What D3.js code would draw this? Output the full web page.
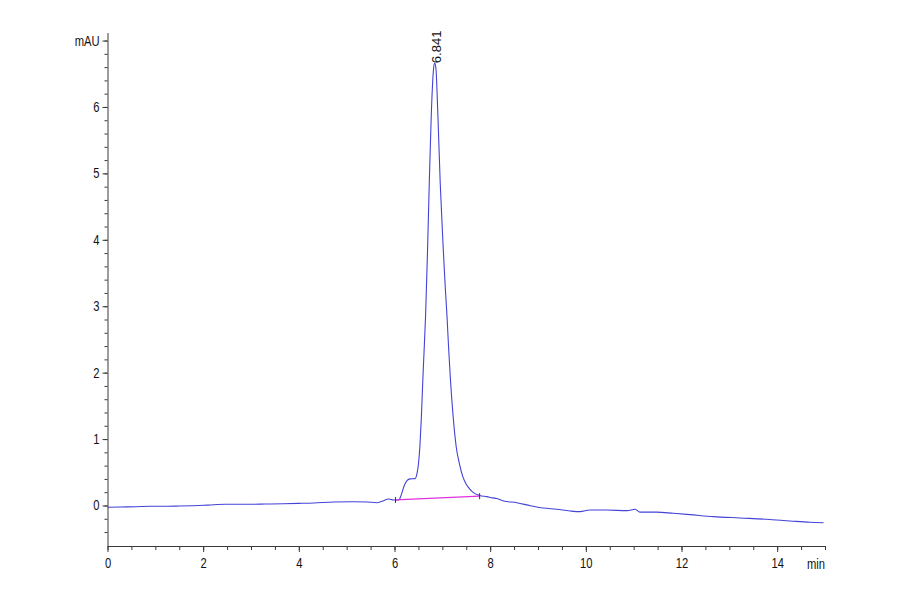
<!DOCTYPE html>
<html>
<head>
<meta charset="utf-8">
<script src="https://cdn.jsdelivr.net/npm/d3@7/dist/d3.min.js"></script>
<style>
  html, body { margin: 0; padding: 0; background: #fff; }
  svg text { font-family: "Liberation Sans", Arial, sans-serif; fill: #111; }
</style>
</head>
<body>
<svg id="chart" width="900" height="594"></svg>
<script>
// retention time (min) and absorbance (mAU)
var signalTime = [0.00, 0.27, 0.60, 0.90, 1.25, 1.50, 1.80, 2.10, 2.46, 2.99, 3.30, 3.68, 4.00, 4.31, 4.73,
  5.15, 5.43, 5.63, 5.74, 5.88, 5.98, 6.09, 6.14, 6.20, 6.26, 6.33, 6.43, 6.47, 6.50, 6.53, 6.56, 6.587,
  6.62, 6.649, 6.691, 6.727, 6.768, 6.817, 6.840, 6.866, 6.908, 6.956, 7.02, 7.06, 7.096, 7.13, 7.17,
  7.22, 7.29, 7.36, 7.43, 7.50, 7.57, 7.65, 7.78, 7.93, 8.05, 8.14, 8.28, 8.56, 8.84, 9.11, 9.39, 9.67,
  9.88, 10.09, 10.44, 10.86, 11.03, 11.13, 11.48, 11.83, 12.18, 12.67, 13.22, 13.78, 14.27, 14.69, 14.97];
var signalMau = [-0.027, -0.023, -0.018, -0.012, -0.012, -0.008, -0.003, 0.006, 0.018, 0.018, 0.022, 0.027, 0.032, 0.038, 0.053,
  0.057, 0.053, 0.042, 0.063, 0.098, 0.083, 0.083, 0.158, 0.294, 0.374, 0.400, 0.404, 0.48, 0.62, 0.885, 1.30, 1.80,
  2.35, 2.84, 3.85, 4.85, 5.86, 6.58, 6.66, 6.58, 5.86, 4.85, 3.85, 3.30, 2.87, 2.39, 1.89,
  1.39, 0.885, 0.62, 0.43, 0.32, 0.25, 0.193, 0.150, 0.133, 0.115, 0.105, 0.068, 0.042, -0.003, -0.038, -0.057, -0.083,
  -0.093, -0.068, -0.068, -0.078, -0.057, -0.10, -0.10, -0.118, -0.138, -0.168, -0.188, -0.208, -0.233, -0.253, -0.259];

// integration baseline under the peak
var baselineTime = [6.02, 7.78];
var baselineMau = [0.083, 0.140];

var peakTime = 6.841;
var peakLabel = '6.841';

var xMajorTicks = [0, 2, 4, 6, 8, 10, 12, 14];
var yMajorTicks = [0, 1, 2, 3, 4, 5, 6, 7];
var xUnit = 'min';
var yUnit = 'mAU';

(function () {
  var svg = d3.select('#chart');
  var lineColor = '#4343d6';
  var axisColor = '#3a3a3a';
  var squeeze = 0.8; // the instrument font is a narrow sans

  var x = d3.scaleLinear().domain([0, 15]).range([107.5, 825]);
  var y = d3.scaleLinear().domain([-0.61, 7.12]).range([546, 546 - 7.73 * 66.42]);

  var xMinor = d3.range(0, 15.01, 0.5);
  var yMinor = d3.range(-0.6, 7.11, 0.2).filter(function (v) { return v > -0.59; });

  var styleAxis = function (g) {
    g.select('.domain').attr('stroke', axisColor);
    g.selectAll('.tick line').attr('stroke', axisColor);
    g.selectAll('text')
        .attr('font-size', 14)
        .attr('fill', '#111')
        .attr('x', function () { return (+d3.select(this).attr('x') || 0) / squeeze; })
        .attr('transform', 'scale(' + squeeze + ',1)');
  };

  // x axis: minor then major
  svg.append('g')
      .attr('transform', 'translate(0,' + y(-0.61) + ')')
      .call(d3.axisBottom(x).tickValues(xMinor).tickSize(4).tickSizeOuter(0).tickFormat(''))
      .call(styleAxis);

  svg.append('g')
      .attr('transform', 'translate(0,' + y(-0.61) + ')')
      .call(d3.axisBottom(x).tickValues(xMajorTicks).tickSize(6).tickSizeOuter(0).tickPadding(6)
          .tickFormat(function (d) { return d; }))
      .call(styleAxis)
      .call(function (g) { g.select('.domain').remove(); });

  svg.append('text')
      .attr('transform', 'translate(807,568.5) scale(' + squeeze + ',1)')
      .attr('font-size', 14)
      .text(xUnit);

  // y axis
  svg.append('g')
      .attr('transform', 'translate(' + x(0) + ',0)')
      .call(d3.axisLeft(y).tickValues(yMinor).tickSize(3).tickSizeOuter(0).tickFormat(''))
      .call(styleAxis);

  svg.append('g')
      .attr('transform', 'translate(' + x(0) + ',0)')
      .call(d3.axisLeft(y).tickValues(yMajorTicks).tickSize(5).tickSizeOuter(0).tickPadding(3)
          .tickFormat(function (d) { return d === 7 ? yUnit : d; }))
      .call(styleAxis)
      .call(function (g) { g.select('.domain').remove(); });

  // signal trace
  var points = signalTime.map(function (t, i) { return [t, signalMau[i]]; });
  var line = d3.line()
      .x(function (d) { return x(d[0]); })
      .y(function (d) { return y(d[1]); })
      .curve(d3.curveMonotoneX);

  svg.append('path')
      .datum(points)
      .attr('fill', 'none')
      .attr('stroke', lineColor)
      .attr('stroke-width', 1.1)
      .attr('d', line);

  // baseline
  var base = baselineTime.map(function (t, i) { return [t, baselineMau[i]]; });
  svg.append('path')
      .datum(base)
      .attr('fill', 'none')
      .attr('stroke', '#e030e0')
      .attr('stroke-width', 1.2)
      .attr('d', d3.line().x(function (d) { return x(d[0]); }).y(function (d) { return y(d[1]); }));

  svg.selectAll('line.mark').data(base).enter().append('line')
      .attr('class', 'mark')
      .attr('x1', function (d) { return x(d[0]); })
      .attr('x2', function (d) { return x(d[0]); })
      .attr('y1', function (d) { return y(d[1]) - 3; })
      .attr('y2', function (d) { return y(d[1]) + 3; })
      .attr('stroke', '#333')
      .attr('stroke-width', 1);

  // peak retention time label, written upward
  var peakIdx = signalMau.indexOf(d3.max(signalMau));
  svg.append('text')
      .attr('transform', 'translate(' + (x(peakTime) + 2) + ',' + y(signalMau[peakIdx]) + ') rotate(-90)')
      .attr('dy', '0.35em')
      .attr('font-size', 13)
      .text(peakLabel);
})();
</script>
</body>
</html>
